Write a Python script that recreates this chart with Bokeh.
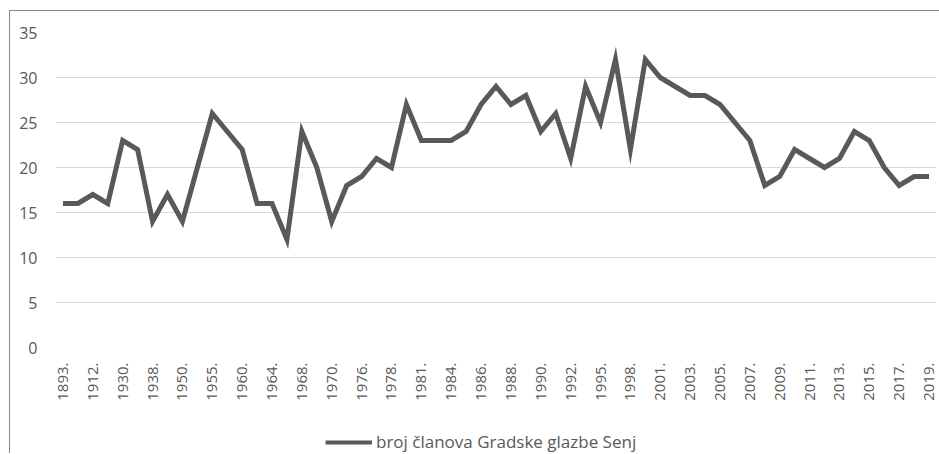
import math
from bokeh.plotting import figure
from bokeh.layouts import column
from bokeh.models import FixedTicker, Legend, LegendItem, Range1d
from bokeh.embed import file_html
from bokeh.resources import INLINE

# Every other category carries a label (as in the original Excel chart)
tick_labels = ["1893.", "1912.", "1930.", "1938.", "1950.", "1955.", "1960.", "1964.",
               "1968.", "1970.", "1976.", "1978.", "1981.", "1984.", "1986.", "1988.",
               "1990.", "1992.", "1995.", "1998.", "2001.", "2003.", "2005.", "2007.",
               "2009.", "2011.", "2013.", "2015.", "2017.", "2019."]
members = [16, 16, 17, 16, 23, 22, 14, 17, 14, 20,
           26, 24, 22, 16, 16, 12, 24, 20, 14, 18,
           19, 21, 20, 27, 23, 23, 23, 24, 27, 29,
           27, 28, 24, 26, 21, 29, 25, 32, 22, 32,
           30, 29, 28, 28, 27, 25, 23, 18, 19, 22,
           21, 20, 21, 24, 23, 20, 18, 19, 19]
series_name = "broj članova Gradske glazbe Senj"
y_ticks = [0, 5, 10, 15, 20, 25, 30, 35]

LINE_COLOR = "#595959"
TEXT_COLOR = "#595959"

idx = list(range(len(members)))
label_pos = list(range(0, len(members), 2))

p = figure(width=929, height=404, output_backend="svg", toolbar_location=None,
           x_range=Range1d(-0.5, len(members) - 0.5), y_range=Range1d(0, 35),
           min_border_left=45, min_border_right=3, min_border_top=21,
           min_border_bottom=68)
p.outline_line_color = None
p.background_fill_color = "white"
p.border_fill_color = "white"

r = p.line(idx, members, line_color=LINE_COLOR, line_width=5, line_join="miter")

p.xgrid.grid_line_color = None
p.ygrid.grid_line_color = "#d9d9d9"
p.ygrid.grid_line_width = 1

p.yaxis.ticker = FixedTicker(ticks=y_ticks)
p.yaxis.axis_line_color = None
p.yaxis.major_tick_line_color = None
p.yaxis.minor_tick_line_color = None
p.yaxis.major_tick_out = 0
p.yaxis.major_tick_in = 0
p.yaxis.major_label_text_font = "Open Sans"
p.yaxis.major_label_text_font_size = "16px"
p.yaxis.major_label_text_color = TEXT_COLOR
p.yaxis.major_label_standoff = 18

p.xaxis.ticker = FixedTicker(ticks=label_pos)
p.xaxis.major_label_overrides = {pos: lab for pos, lab in zip(label_pos, tick_labels)}
p.xaxis.major_label_orientation = math.pi / 2
p.xaxis.axis_line_color = None
p.xaxis.major_tick_line_color = None
p.xaxis.minor_tick_line_color = None
p.xaxis.major_tick_out = 0
p.xaxis.major_tick_in = 0
p.xaxis.major_label_text_font = "Open Sans"
p.xaxis.major_label_text_font_size = "15px"
p.xaxis.major_label_text_color = TEXT_COLOR
p.xaxis.major_label_standoff = 15

# legend strip below the chart (sample line drawn outside its visible range)
leg = figure(width=929, height=38, output_backend="svg", toolbar_location=None,
             x_range=Range1d(0, 1), y_range=Range1d(0, 1),
             x_axis_location=None, y_axis_location=None, min_border=0)
leg.outline_line_color = None
leg.xgrid.grid_line_color = None
leg.ygrid.grid_line_color = None
sample = leg.line(x=[-2, -1], y=[-2, -2], line_color=LINE_COLOR, line_width=4)
legend = Legend(items=[LegendItem(label=series_name, renderers=[sample])],
                location=(270, 0), orientation="horizontal",
                glyph_width=47, glyph_height=16, label_standoff=4,
                label_text_font="Open Sans", label_text_font_size="17px",
                label_text_color=TEXT_COLOR, border_line_color=None,
                background_fill_alpha=0, padding=2, margin=0)
leg.add_layout(legend, "center")

layout = column(p, leg, spacing=0,
                styles={"border-top": "1px solid #8a8a8a",
                        "border-left": "1px solid #8a8a8a",
                        "margin-left": "9px", "margin-top": "10px"})

open("out.html", "w").write(file_html(layout, INLINE))
